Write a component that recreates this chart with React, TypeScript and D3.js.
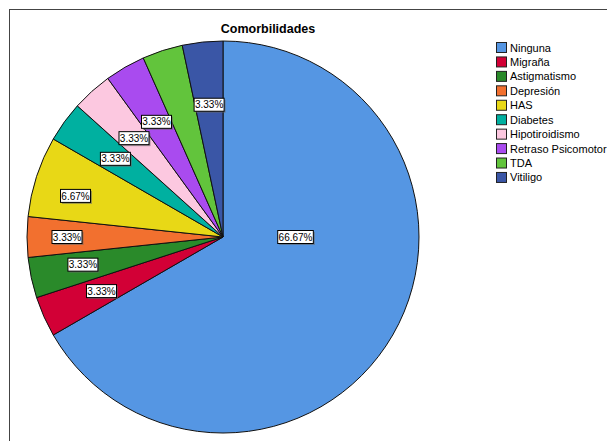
import React from "react";
import * as d3 from "d3";

const categories = ["Ninguna", "Migraña", "Astigmatismo", "Depresión", "HAS", "Diabetes", "Hipotiroidismo", "Retraso Psicomotor", "TDA", "Vitiligo"];
const counts = [20, 1, 1, 1, 2, 1, 1, 1, 1, 1];
const colors = ["#5596E3", "#D20036", "#2A8A2A", "#F2702F", "#E8D816", "#00B0A0", "#FCC8E0", "#A94BEF", "#62C43C", "#3A56A6"];
const title = "Comorbilidades";

// layout
const W = 607, H = 441;
const cx = 223, cy = 237, R = 196, labelR = 133;
const labelNudgeX: Record<string, number> = { "Astigmatismo": -10, "Depresión": -23, "HAS": -21 };

export default function App() {
  const total = d3.sum(counts);
  const pie = d3.pie<number>().sort(null).value((d) => d).startAngle(0).endAngle(2 * Math.PI);
  const arcs = pie(counts);
  const arcGen = d3.arc<d3.PieArcDatum<number>>().innerRadius(0).outerRadius(R);
  const labelArc = d3.arc<d3.PieArcDatum<number>>().innerRadius(labelR).outerRadius(labelR);
  const fmt = (v: number) => ((v / total) * 100).toFixed(2) + "%";
  const font = "'Liberation Sans', Arial, sans-serif";

  // compute label boxes, hide those that overlap earlier ones
  const placed: { x: number; y: number; w: number; h: number; txt: string; i: number }[] = [];
  arcs.forEach((a, i) => {
    let x: number, y: number;
    if (a.endAngle - a.startAngle > Math.PI) {
      const ang = Math.PI / 2;
      const r = R * 0.37;
      x = r * Math.sin(ang);
      y = -r * Math.cos(ang);
    } else {
      [x, y] = labelArc.centroid(a);
      x += labelNudgeX[categories[i]] || 0;
    }
    const txt = fmt(a.value);
    const w = txt.length * 5.6 + 2;
    const h = 13;
    const overlaps = placed.some(
      (p) => Math.abs(p.x - x) < (p.w + w) / 2 && Math.abs(p.y - y) < (p.h + h) / 2
    );
    if (!overlaps) placed.push({ x, y, w, h, txt, i });
  });

  return (
    <svg width={W} height={H} style={{ position: "absolute", left: 0, top: 0, background: "#fff" }} fontFamily={font}>
      <rect x={9.5} y={9.5} width={800} height={600} fill="#fff" stroke="#444" strokeWidth={1} />
      <text x={268} y={33} textAnchor="middle" fontWeight="bold" fontSize={12.5} fill="#000">{title}</text>
      <g transform={`translate(${cx},${cy})`}>
        {arcs.map((a, i) => (
          <path key={categories[i]} d={arcGen(a) || ""} fill={colors[i]} stroke="#111" strokeWidth={1} strokeLinejoin="round" />
        ))}
        {placed.map((p) => (
          <g key={"l" + p.i} transform={`translate(${p.x},${p.y})`}>
            <rect x={-p.w / 2 + 1.5} y={-p.h / 2 + 1.5} width={p.w} height={p.h} fill="#666" opacity={0.6} />
            <rect x={-p.w / 2} y={-p.h / 2} width={p.w} height={p.h} fill="#fff" stroke="#000" strokeWidth={1} />
            <text x={0} y={3.6} textAnchor="middle" fontSize={10} fill="#000">{p.txt}</text>
          </g>
        ))}
      </g>
      <g transform="translate(496,42)">
        {categories.map((c, i) => (
          <g key={c} transform={`translate(0,${i * 14.44})`}>
            <rect x={0.5} y={0.5} width={10} height={10} fill={colors[i]} stroke="#222" strokeWidth={1} />
            <text x={14} y={9.5} fontSize={11} fill="#000">{c}</text>
          </g>
        ))}
      </g>
    </svg>
  );
}
